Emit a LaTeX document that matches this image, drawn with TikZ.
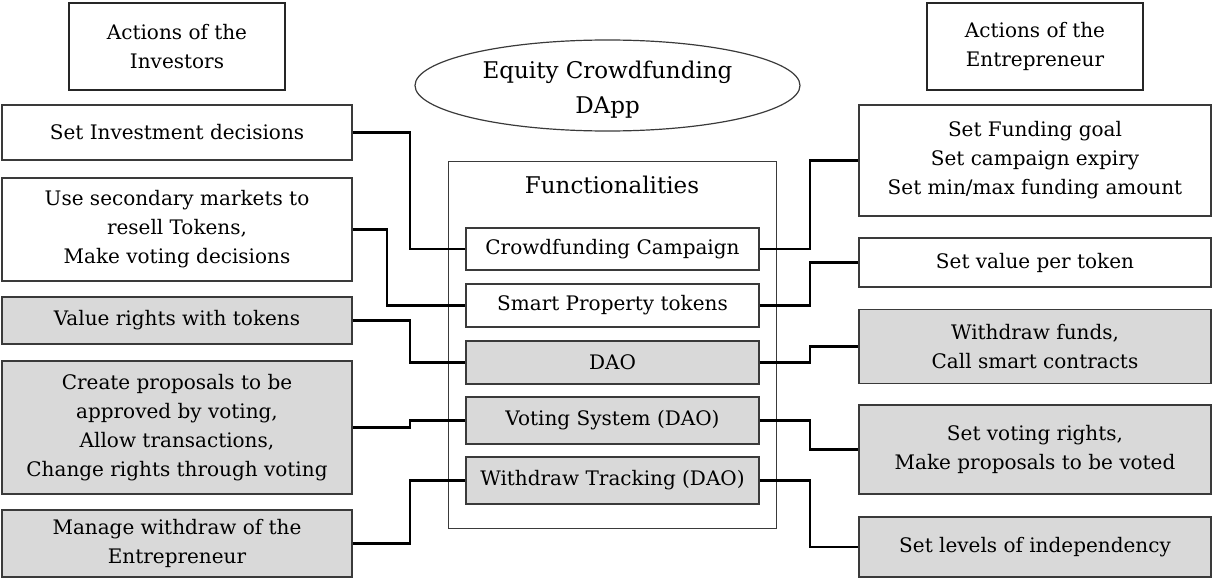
\documentclass[tikz,border=0pt]{standalone}
\usepackage{fontspec}
\setmainfont{DejaVu Serif}
\usetikzlibrary{shapes.geometric}
\definecolor{boxgray}{HTML}{D9D9D9}
\definecolor{edge}{HTML}{3A3A3A}
\tikzset{
  txt/.style={font=\fontsize{20}{29}\selectfont, align=center, inner sep=0pt},
  actbox/.style={txt, draw=edge, line width=1.4pt, fill=white},
  shaded/.style={actbox, fill=boxgray},
  headbox/.style={txt, draw=black!85, line width=2.4pt},
  funcbox/.style={txt, draw=edge, line width=1.4pt, fill=white},
  wire/.style={draw=black, line width=2.1pt},
}
\begin{document}
\begin{tikzpicture}[x=1pt, y=-1pt]
\useasboundingbox (0,0) rectangle (1212,578);

% headers
\node[headbox, minimum width=216, minimum height=87] (inv) at (177,46.5) {Actions of the\\Investors};
\node[headbox, minimum width=216, minimum height=87] (ent) at (1035,46.5) {Actions of the\\Entrepreneur};
\node[ellipse, draw=edge, line width=1.2pt, minimum width=385, minimum height=91, inner sep=0pt] (dapp) at (607.5,85.5) {};
\node[font=\fontsize{23}{35}\selectfont, align=center, inner sep=0pt] (dapptext) at (607.5,90) {Equity Crowdfunding\\DApp};

% functionalities container
\node[draw=edge, line width=1pt, minimum width=328, minimum height=367, inner sep=0pt] (func) at (612,344.5) {};
\node[font=\fontsize{23}{28}\selectfont, inner sep=0pt] (functitle) at (612,185) {Functionalities};

\node[funcbox, minimum width=293, minimum height=42] (f1) at (612.5,249) {Crowdfunding Campaign};
\node[funcbox, minimum width=293, minimum height=43] (f2) at (612.5,305.5) {Smart Property tokens};
\node[funcbox, fill=boxgray, minimum width=293, minimum height=43] (f3) at (612.5,362.5) {DAO};
\node[funcbox, fill=boxgray, minimum width=293, minimum height=47] (f4) at (612.5,420.5) {Voting System (DAO)};
\node[funcbox, fill=boxgray, minimum width=293, minimum height=47] (f5) at (612.5,480.5) {Withdraw Tracking (DAO)};

% investor actions
\node[actbox, minimum width=350, minimum height=55] (l1) at (177,132.5) {Set Investment decisions};
\node[actbox, minimum width=350, minimum height=103] (l2) at (177,229.5) {Use secondary markets to\\resell Tokens,\\Make voting decisions};
\node[shaded, minimum width=350, minimum height=47] (l3) at (177,320.5) {Value rights with tokens};
\node[shaded, minimum width=350, minimum height=133] (l4) at (177,427.5) {Create proposals to be\\approved by voting,\\Allow transactions,\\Change rights through voting};
\node[shaded, minimum width=350, minimum height=67] (l5) at (177,543.5) {Manage withdraw of the\\Entrepreneur};

% entrepreneur actions
\node[actbox, minimum width=352, minimum height=111] (r1) at (1035,160.5) {Set Funding goal\\Set campaign expiry\\Set min/max funding amount};
\node[actbox, minimum width=352, minimum height=49] (r2) at (1035,262.5) {Set value per token};
\node[shaded, minimum width=352, minimum height=74] (r3) at (1035,346.5) {Withdraw funds,\\Call smart contracts};
\node[shaded, minimum width=352, minimum height=89] (r4) at (1035,449.5) {Set voting rights,\\Make proposals to be voted};
\node[shaded, minimum width=352, minimum height=60] (r5) at (1035,547) {Set levels of independency};

% connectors, investor side
\draw[wire] (l1.east) -- ++(57,0) |- (f1.west);
\draw[wire] (l2.east) -- ++(34,0) |- (f2.west);
\draw[wire] (l3.east) -- ++(57,0) |- (f3.west);
\draw[wire] (l4.east) -- ++(57,0) |- (f4.west);
\draw[wire] (l5.east) -- ++(57,0) |- (f5.west);

% connectors, entrepreneur side
\draw[wire] (f1.east) -- ++(50,0) |- (r1.west);
\draw[wire] (f2.east) -- ++(50,0) |- (r2.west);
\draw[wire] (f3.east) -- ++(50,0) |- (r3.west);
\draw[wire] (f4.east) -- ++(50,0) |- (r4.west);
\draw[wire] (f5.east) -- ++(50,0) |- (r5.west);
\end{tikzpicture}
\end{document}
